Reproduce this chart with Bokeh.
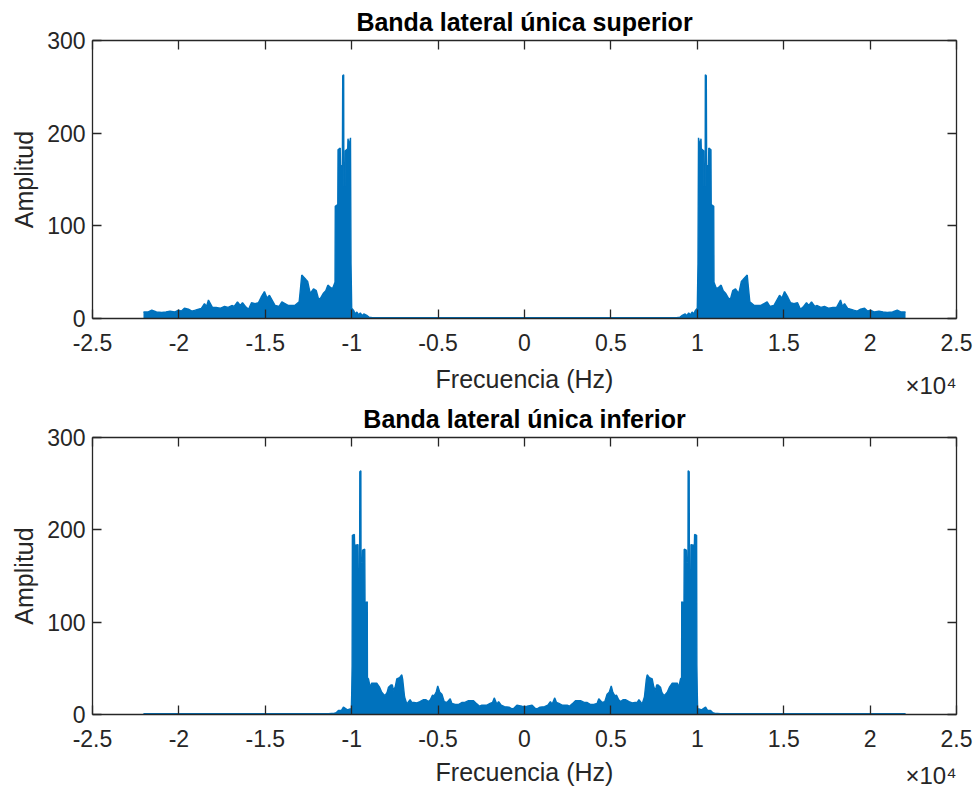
import numpy as np
from bokeh.plotting import figure
from bokeh.models import Range1d, FixedTicker, LinearAxis, Title
from bokeh.layouts import column
from bokeh.embed import file_html
from bokeh.resources import INLINE

# ---------------- data (positive-frequency half; spectrum of a real signal is symmetric) ----------------
usb_freq = [0, 8800, 9000, 9100, 9300, 9400, 9500, 9600, 9700, 9800, 9900, 10000,
            10040, 10070, 10150, 10215, 10230, 10370, 10385, 10455, 10465, 10520, 10540,
            10650, 10665, 10790, 10805, 10950, 10965,
            11110, 11250, 11380, 11500, 11650, 11800, 11920, 12050, 12210, 12400, 12550,
            12650, 12890, 12950, 13040, 13300, 13660, 14040, 14200, 14430, 14760, 14900,
            15050, 15240, 15400, 15590, 15800, 15970, 16150, 16320, 16450, 16610, 16800,
            16940, 17150, 17360, 17610, 17850, 18060, 18290, 18400, 18520, 18700, 18870,
            19050, 19250, 19450, 19680, 19850, 20020, 20250, 20510, 20750, 20990, 21300,
            21570, 21800, 22050]
usb_amp = [0.8, 0.8, 1.5, 3, 5, 3, 6, 4, 7, 5, 9, 11,
           60, 195, 186, 194, 183, 181, 143, 143, 263, 262, 165,
           165, 184, 182, 123, 121, 39,
           32, 34, 36, 30, 27, 22, 21, 30, 32, 27, 40,
           42, 47, 35, 18, 14, 14, 18, 13, 14, 25, 22,
           29, 23, 17, 16, 17, 10, 13, 17, 14, 18, 13,
           14, 12, 13, 11, 12, 12, 20, 13, 16, 11, 10,
           9, 8, 10, 11, 8, 9, 7, 8, 7, 6.5, 7,
           9, 7, 7]

lsb_freq = [0, 150, 440, 600, 730, 900, 1160, 1350, 1500, 1600, 1750, 1850, 1990,
            2200, 2470, 2600, 2760, 2950, 3240, 3450, 3630, 3800, 4010, 4200, 4300,
            4490, 4650, 4780, 4900, 5020, 5100, 5170, 5250, 5320, 5450, 5560, 5700,
            5840, 6050, 6230, 6400, 6520, 6620, 6810, 6940, 7050, 7100, 7230, 7390,
            7480, 7580, 7650, 7730, 7870, 7950, 8060, 8160, 8260, 8400, 8550, 8840,
            8930, 9030, 9090,
            9100, 9230, 9245, 9370, 9385, 9460, 9470, 9530, 9545, 9620, 9635, 9830,
            9845, 9960, 9975, 10000, 10020, 10090, 10250, 10480, 10600, 10770, 10900,
            11000, 11340, 12000, 22050]
lsb_amp = [8.5, 9, 10, 7, 6, 8, 8.5, 10, 14, 11, 18, 13, 12,
           10, 10, 9, 11.5, 15, 15, 13, 13, 11, 11, 12, 17,
           13, 14, 22, 24, 31, 25, 22, 20, 21, 16, 14, 16,
           16, 14, 12.6, 13, 13, 16, 11.5, 19, 38, 43, 40, 38.6,
           30, 26, 32, 32, 29.6, 24, 20.6, 22, 24, 30, 34, 34,
           29.6, 38.6, 40,
           122, 121, 179, 178, 165, 165, 264, 263, 143, 143, 184, 183,
           195, 194, 53, 22, 6, 6, 5, 8, 4.3, 4.3, 2,
           1.5, 1, 0.8, 0.8]

x_ticks = [-25000, -20000, -15000, -10000, -5000, 0, 5000, 10000, 15000, 20000, 25000]
x_tick_labels = ["-2.5", "-2", "-1.5", "-1", "-0.5", "0", "0.5", "1", "1.5", "2", "2.5"]
y_ticks = [0, 100, 200, 300]

titles = ["Banda lateral única superior", "Banda lateral única inferior"]
x_label = "Frecuencia (Hz)"
x_exponent = "×10⁴"
y_label = "Amplitud"

FONT = "Liberation Sans"
AX = "#262626"
BLUE = "#0072BD"


def mirror(f, a):
    f = np.asarray(f, dtype=float)
    a = np.asarray(a, dtype=float)
    ff = np.concatenate([-f[::-1], f[1:]])
    aa = np.concatenate([a[::-1], a[1:]])
    return ff, aa


def style_axis(ax, ticks, overrides=None, show_labels=True, standoff=7):
    ax.ticker = FixedTicker(ticks=ticks)
    ax.major_tick_in = 9
    ax.major_tick_out = 0
    ax.minor_tick_in = 0
    ax.minor_tick_out = 0
    ax.axis_line_color = AX
    ax.axis_line_width = 1.3
    ax.major_tick_line_color = AX
    ax.major_tick_line_width = 1.3
    ax.major_label_text_font = FONT
    ax.major_label_text_font_size = "23px"
    ax.major_label_text_color = AX
    ax.major_label_standoff = standoff
    if overrides:
        ax.major_label_overrides = overrides
    if not show_labels:
        ax.major_label_text_font_size = "0px"
        ax.major_label_text_color = None
        ax.major_label_standoff = 0


def make_fig(title, freq, amp, frame_h, top, bottom, title_standoff, spacer, exp_standoff):
    p = figure(frame_width=864, frame_height=frame_h, output_backend="svg",
               toolbar_location=None,
               x_range=Range1d(-25000, 25000), y_range=Range1d(0, 300),
               min_border_left=92, min_border_right=20,
               min_border_top=top, min_border_bottom=bottom)
    p.grid.visible = False
    p.outline_line_color = None
    p.background_fill_color = "white"
    p.border_fill_color = "white"

    p.title.text = title
    p.title.align = "center"
    p.title.vertical_align = "middle"
    p.title.text_font = FONT
    p.title.text_font_size = "25px"
    p.title.text_font_style = "bold"
    p.title.text_color = "#000000"
    p.title.standoff = title_standoff

    overrides = {t: l for t, l in zip(x_ticks, x_tick_labels)}
    style_axis(p.xaxis[0], x_ticks, overrides, standoff=15)

    style_axis(p.yaxis[0], y_ticks, standoff=7)
    p.yaxis[0].axis_label = y_label
    p.yaxis[0].axis_label_text_font = FONT
    p.yaxis[0].axis_label_text_font_size = "25px"
    p.yaxis[0].axis_label_text_font_style = "normal"
    p.yaxis[0].axis_label_text_color = AX
    p.yaxis[0].axis_label_standoff = 6

    top_ax = LinearAxis()
    style_axis(top_ax, x_ticks, show_labels=False)
    p.add_layout(top_ax, "above")
    right_ax = LinearAxis()
    style_axis(right_ax, y_ticks, show_labels=False)
    p.add_layout(right_ax, "right")

    # invisible (white) spacer between the tick-label row and the axis-title row
    gap = LinearAxis(ticker=FixedTicker(ticks=[-24600]), axis_line_color=None,
                     major_tick_line_color="white", major_tick_line_width=1,
                     minor_tick_line_color=None,
                     major_tick_in=0, major_tick_out=spacer, minor_tick_in=0, minor_tick_out=0,
                     major_label_standoff=0, major_label_text_font_size="0px",
                     major_label_text_color=None)
    p.add_layout(gap, "below")

    xlab = Title(text=x_label, align="center", vertical_align="middle",
                 text_font=FONT, text_font_size="25px", text_font_style="normal",
                 text_color=AX, standoff=-26)
    p.add_layout(xlab, "below")
    xexp = Title(text=x_exponent, align="right", vertical_align="middle",
                 text_font=FONT, text_font_size="24px", text_font_style="normal",
                 text_color=AX, standoff=exp_standoff, offset=0)
    p.add_layout(xexp, "below")

    ff, aa = mirror(freq, amp)
    p.varea(x=ff, y1=0, y2=aa, fill_color=BLUE, fill_alpha=1.0)
    p.line(x=ff, y=aa, line_color=BLUE, line_width=1.4)
    return p


p1 = make_fig(titles[0], usb_freq, usb_amp, 278, 40, 80, 8, 23, -19)
p2 = make_fig(titles[1], lsb_freq, lsb_amp, 277, 39, 75, 7, 20, -26)

layout = column(p1, p2, spacing=0)
open("out.html", "w").write(file_html(layout, INLINE))
